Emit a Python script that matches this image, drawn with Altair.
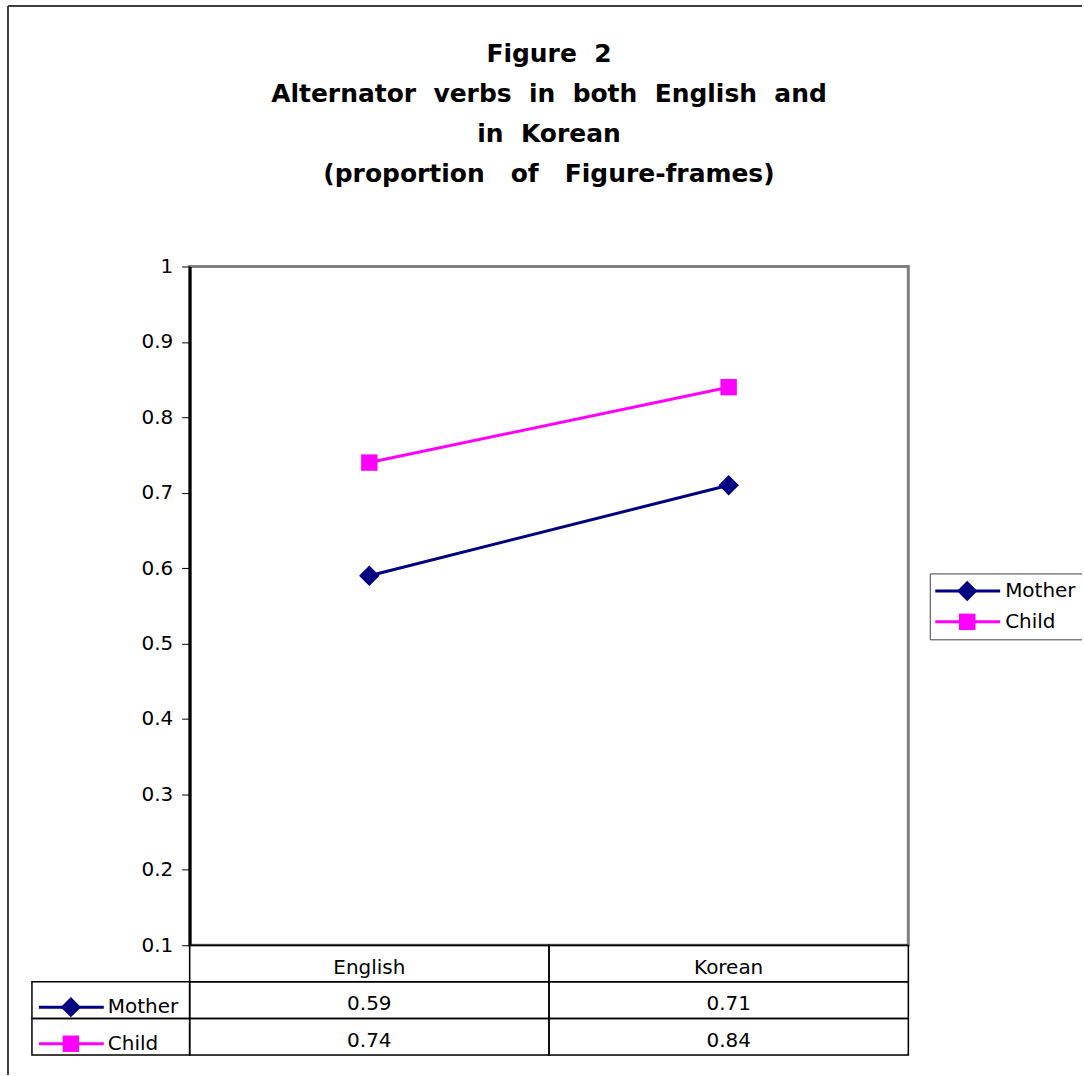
import altair as alt
import pandas as pd

# ---- data -----------------------------------------------------------------
categories = ["English", "Korean"]
series_names = ["Mother", "Child"]
mother = [0.59, 0.71]
child = [0.74, 0.84]
y_ticks = [0.1, 0.2, 0.3, 0.4, 0.5, 0.6, 0.7, 0.8, 0.9, 1.0]
title_lines = [
    "Figure \u00a02",
    "Alternator \u00a0verbs \u00a0in \u00a0both \u00a0English \u00a0and",
    "in \u00a0Korean",
    "(proportion \u00a0\u00a0of \u00a0\u00a0Figure-frames)",
]

series_colors = ["#000080", "#FF00FF"]
series_shapes = ["diamond", "square"]
marker_sizes = [420, 270]
FONT = "DejaVu Sans"

values_by_series = {"Mother": mother, "Child": child}
long_df = pd.DataFrame(
    [
        {"category": c, "series": s, "value": v}
        for s in series_names
        for c, v in zip(categories, values_by_series[s])
    ]
)

table_df = pd.DataFrame(
    [{"category": c, "row": "head", "label": c} for c in categories]
    + [
        {"category": c, "row": s, "label": f"{v:.2f}"}
        for s in series_names
        for c, v in zip(categories, values_by_series[s])
    ]
)
keys_df = pd.DataFrame({"row": series_names, "series": series_names})

color_scale = alt.Scale(domain=series_names, range=series_colors)
shape_scale = alt.Scale(domain=series_names, range=series_shapes)
size_scale = alt.Scale(domain=series_names, range=marker_sizes)
color_enc = alt.Color("series:N", scale=color_scale, legend=None)
shape_enc = alt.Shape("series:N", scale=shape_scale, legend=None)
size_enc = alt.Size("series:N", scale=size_scale, legend=None)

W, H = 720, 680

# ---- line chart -------------------------------------------------------------
x_pt = alt.X(
    "category:N",
    sort=categories,
    scale=alt.Scale(type="point", domain=categories, padding=0.5),
    axis=None,
)
y_val = alt.Y(
    "value:Q",
    scale=alt.Scale(domain=[0.1, 1.0], nice=False, zero=False),
    axis=alt.Axis(
        values=y_ticks,
        format=".1~f",
        title=None,
        grid=False,
        domainColor="black",
        domainWidth=3,
        tickColor="black",
        tickSize=8,
        tickWidth=1,
        labelFont=FONT,
        labelFontSize=20,
        labelColor="black",
        labelPadding=9,
    ),
)

base = alt.Chart(long_df)
lines = base.mark_line(strokeWidth=3).encode(x=x_pt, y=y_val, color=color_enc)
points = base.mark_point(filled=True, opacity=1).encode(
    x=x_pt, y=y_val, color=color_enc, shape=shape_enc, size=size_enc
)

# legend box on the right of the plot
legend_layers = []
one = pd.DataFrame({"k": [0]})
box_color = "#404040"
legend_layers.append(
    alt.Chart(one).mark_rule(color=box_color, strokeWidth=1).encode(
        x=alt.value(742), x2=alt.value(894), y=alt.value(308)
    )
)
legend_layers.append(
    alt.Chart(one).mark_rule(color=box_color, strokeWidth=1).encode(
        x=alt.value(742), x2=alt.value(894), y=alt.value(374)
    )
)
legend_layers.append(
    alt.Chart(one).mark_rule(color=box_color, strokeWidth=1).encode(
        x=alt.value(742), y=alt.value(308), y2=alt.value(374)
    )
)
for i, name in enumerate(series_names):
    ypos = 325 + 31 * i
    src = alt.Chart(pd.DataFrame({"series": [name]}))
    legend_layers.append(
        src.mark_rule(strokeWidth=3).encode(
            x=alt.value(747), x2=alt.value(812), y=alt.value(ypos), color=color_enc
        )
    )
    legend_layers.append(
        src.mark_point(filled=True, opacity=1).encode(
            x=alt.value(779), y=alt.value(ypos), color=color_enc, shape=shape_enc,
            size=size_enc,
        )
    )
    legend_layers.append(
        src.mark_text(
            align="left", baseline="middle", font=FONT, fontSize=20, color="black"
        ).encode(x=alt.value(817), y=alt.value(ypos), text="series:N")
    )

top = alt.layer(lines, points, *legend_layers).properties(
    width=W,
    height=H,
    view=alt.ViewBackground(stroke="#808080", strokeWidth=3),
    title=alt.TitleParams(
        text=title_lines,
        font=FONT,
        fontSize=25,
        fontWeight="bold",
        color="black",
        anchor="middle",
        frame="group",
        lineHeight=40,
        offset=70,
    ),
)

# ---- data table under the plot ------------------------------------------------
x_band = alt.X(
    "category:N",
    sort=categories,
    scale=alt.Scale(domain=categories, paddingInner=0, paddingOuter=0),
    axis=None,
)
row_scale = alt.Scale(domain=["head"] + series_names, paddingInner=0, paddingOuter=0)
y_row = alt.Y("row:N", scale=row_scale, axis=None)
y_row_mid = alt.Y("row:N", scale=row_scale, axis=None, bandPosition=0.5)

tbase = alt.Chart(table_df)
cells = tbase.mark_rect(fillOpacity=0, stroke="black", strokeWidth=1.5).encode(
    x=x_band, y=y_row
)
cell_text = tbase.mark_text(font=FONT, fontSize=20, color="black", dy=4).encode(
    x=x_band, y=y_row_mid, text="label:N"
)

kbase = alt.Chart(keys_df)
key_cells = kbase.mark_rect(fillOpacity=0, stroke="black", strokeWidth=1.5).encode(
    x=alt.value(-158), x2=alt.value(0), y=y_row
)
key_lines = kbase.mark_rule(strokeWidth=3, yOffset=7).encode(
    x=alt.value(-151), x2=alt.value(-86), y=y_row_mid, color=color_enc
)
key_marks = kbase.mark_point(filled=True, opacity=1, yOffset=7).encode(
    x=alt.value(-119), y=y_row_mid, color=color_enc, shape=shape_enc, size=size_enc
)
key_text = kbase.mark_text(
    align="left", baseline="middle", font=FONT, fontSize=20, color="black", dy=7
).encode(x=alt.value(-82), y=y_row_mid, text="series:N")

# outer frame of the figure (top and left edges)
frame_color = "#404040"
frame_top = alt.Chart(one).mark_rule(color=frame_color, strokeWidth=2).encode(
    x=alt.value(-182), x2=alt.value(894), y=alt.value(-941)
)
frame_left = alt.Chart(one).mark_rule(color=frame_color, strokeWidth=2).encode(
    x=alt.value(-182), y=alt.value(-941), y2=alt.value(130)
)

bottom = alt.layer(
    cells, cell_text, key_cells, key_lines, key_marks, key_text, frame_top, frame_left
).properties(width=W, height=110)

chart = (
    alt.vconcat(top, bottom, spacing=0, bounds="flush")
    .resolve_scale(x="independent", y="independent")
    .properties(padding={"left": 6, "top": 3, "right": 0, "bottom": 0})
    .configure_view(stroke=None)
    .configure(font=FONT)
)

chart.save("out.html", embed_options={"renderer": "svg", "actions": False})
